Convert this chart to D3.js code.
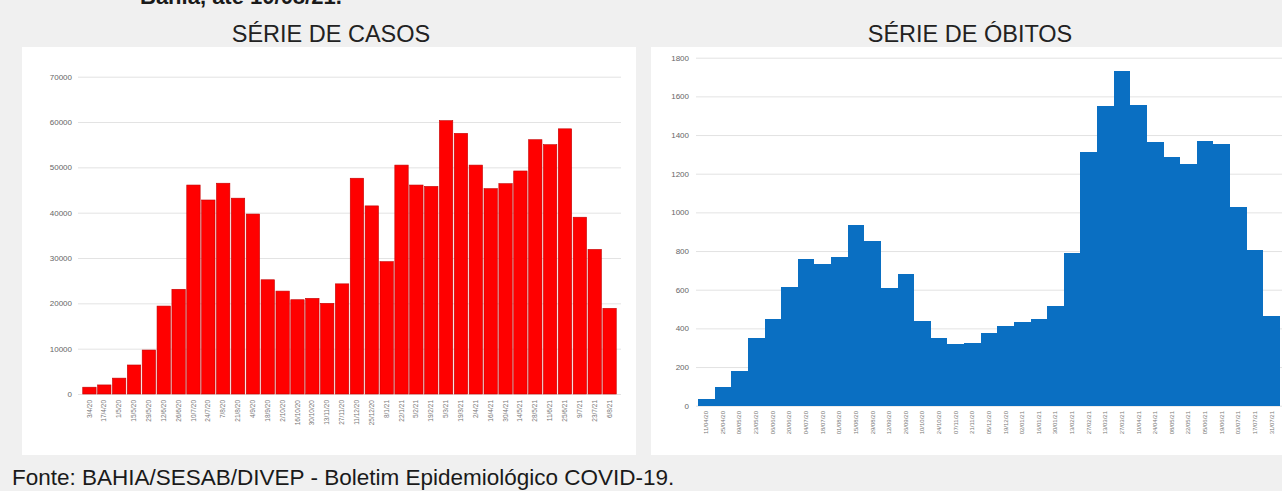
<!DOCTYPE html>
<html>
<head>
<meta charset="utf-8">
<script src="https://cdn.jsdelivr.net/npm/d3@7"></script>
<style>
  html, body { margin: 0; padding: 0; background: #f0f0f0; }
  svg { display: block; font-family: "Liberation Sans", Arial, sans-serif; }
</style>
</head>
<body>
<svg id="chart" width="1282" height="491"></svg>
<script>
// Biweekly confirmed cases, Bahia
const casosDatas = ["3/4/20","17/4/20","1/5/20","15/5/20","29/5/20","12/6/20","26/6/20","10/7/20","24/7/20","7/8/20","21/8/20","4/9/20","18/9/20","2/10/20","16/10/20","30/10/20","13/11/20","27/11/20","11/12/20","25/12/20","8/1/21","22/1/21","5/2/21","19/2/21","5/3/21","19/3/21","2/4/21","16/4/21","30/4/21","14/5/21","28/5/21","11/6/21","25/6/21","9/7/21","23/7/21","6/8/21"];
const casosValores = [1500,2000,3500,6400,9700,19400,23100,46100,42800,46500,43200,39700,25200,22700,20800,21100,20000,24300,47600,41500,29200,50500,46100,45800,60300,57500,50500,45300,46400,49200,56100,55000,58500,39000,31900,18900];
const casosTicks = [0,10000,20000,30000,40000,50000,60000,70000];

// Biweekly deaths, Bahia
const obitosDatas = ["11/04/20","25/04/20","09/05/20","23/05/20","06/06/20","20/06/20","04/07/20","18/07/20","01/08/20","15/08/20","29/08/20","12/09/20","26/09/20","10/10/20","24/10/20","07/11/20","21/11/20","05/12/20","19/12/20","02/01/21","16/01/21","30/01/21","13/02/21","27/02/21","13/03/21","27/03/21","10/04/21","24/04/21","08/05/21","22/05/21","05/06/21","19/06/21","03/07/21","17/07/21","31/07/21"];
const obitosValores = [35,98,181,348,447,615,758,732,767,934,851,608,681,439,351,319,322,374,413,431,448,517,788,1310,1549,1730,1554,1364,1284,1249,1370,1356,1028,805,465];
const obitosTicks = [0,200,400,600,800,1000,1200,1400,1600,1800];

const svg = d3.select("#chart");

// Heading line (runs off the top edge)
svg.append("text")
  .attr("x", 140).attr("y", 4)
  .attr("font-size", 22).attr("font-weight", "bold").attr("fill", "#1a1a1a")
  .text("Bahia, até 10/08/21.");

// Source line
svg.append("text")
  .attr("x", 12).attr("y", 485)
  .attr("font-size", 22.5).attr("fill", "#1a1a1a")
  .text("Fonte: BAHIA/SESAB/DIVEP - Boletim Epidemiológico COVID-19.");

function painel(cfg) {
  const g = svg.append("g");
  g.append("rect")
    .attr("x", cfg.px).attr("y", 47).attr("width", cfg.pw).attr("height", 408)
    .attr("fill", "#ffffff");

  g.append("text")
    .attr("x", cfg.tx).attr("y", 42)
    .attr("text-anchor", "middle").attr("font-size", 23.5).attr("fill", "#222")
    .text(cfg.titulo);

  const y = d3.scaleLinear().domain(cfg.yDomain).range(cfg.yRange);
  const x = d3.scaleBand().domain(cfg.datas).range(cfg.xRange)
    .paddingInner(cfg.padIn).paddingOuter(cfg.padOut);

  // Gridlines and y labels
  const yAxis = d3.axisLeft(y).tickValues(cfg.ticks)
    .tickSize(-(cfg.xRange[1] - cfg.xRange[0] + cfg.gridExtra))
    .tickPadding(cfg.tickPad)
    .tickFormat(d3.format("d"));
  const ya = g.append("g")
    .attr("transform", `translate(${cfg.xRange[0] - cfg.gridExtra / 2},0)`)
    .call(yAxis);
  ya.select(".domain").remove();
  ya.selectAll(".tick line").attr("stroke", "#e3e3e3").attr("stroke-width", 1);
  ya.selectAll(".tick text").attr("font-size", 8).attr("fill", "#666")
    .attr("font-family", "\"Liberation Sans\", Arial, sans-serif");

  // Bars
  g.append("g").selectAll("rect")
    .data(cfg.valores)
    .join("rect")
    .attr("x", (d, i) => x(cfg.datas[i]))
    .attr("width", x.bandwidth())
    .attr("y", d => y(d))
    .attr("height", d => y(0) - y(d))
    .attr("fill", cfg.cor)
    .attr("stroke", cfg.borda)
    .attr("stroke-width", cfg.bordaLarg)
    .attr("shape-rendering", cfg.crisp ? "crispEdges" : null);

  // Rotated date labels
  const xAxis = d3.axisBottom(x).tickSize(0).tickPadding(0);
  const xa = g.append("g")
    .attr("transform", `translate(0,${cfg.xLabelY})`)
    .call(xAxis);
  xa.select(".domain").remove();
  xa.selectAll(".tick text")
    .attr("font-size", cfg.xFont).attr("fill", "#777")
    .attr("font-family", "\"Liberation Sans\", Arial, sans-serif")
    .attr("text-anchor", "end")
    .attr("dy", "0.32em")
    .attr("transform", "rotate(-90)");
}

painel({
  titulo: "SÉRIE DE CASOS", tx: 331,
  px: 22, pw: 614,
  datas: casosDatas, valores: casosValores, ticks: casosTicks,
  yDomain: [0, 70000], yRange: [394, 76.7],
  xRange: [82, 617], padIn: 0.1, padOut: 0.05, gridExtra: 8, tickPad: 6,
  cor: "#ff0000", borda: "#c40000", bordaLarg: 0.6, crisp: false,
  xLabelY: 400, xFont: 6.5
});

painel({
  titulo: "SÉRIE DE ÓBITOS", tx: 970,
  px: 651, pw: 631,
  datas: obitosDatas, valores: obitosValores, ticks: obitosTicks,
  yDomain: [0, 1800], yRange: [405.7, 57.7],
  xRange: [698, 1280], padIn: 0, padOut: 0, gridExtra: 4, tickPad: 7,
  cor: "#0a6fc2", borda: "none", bordaLarg: 0, crisp: true,
  xLabelY: 411, xFont: 6
});
</script>
</body>
</html>
